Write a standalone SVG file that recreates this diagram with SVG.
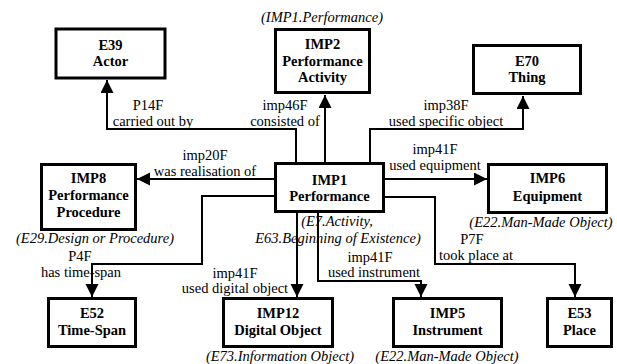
<svg xmlns="http://www.w3.org/2000/svg" width="617" height="364" viewBox="0 0 617 364" font-family="Liberation Serif, serif">
<style>
.box{fill:#fff;stroke:#000;stroke-width:3}
.c{fill:none;stroke:#000;stroke-width:2;marker-end:url(#ah)}
.t{font-family:"Liberation Serif",serif;font-size:14.5px;fill:#000;text-anchor:middle}
.b{font-weight:bold}
.i{font-style:italic}
</style>
<defs>
<marker id="ah" markerUnits="userSpaceOnUse" markerWidth="14" markerHeight="14" refX="13" refY="6.5" orient="auto">
<path d="M0,0 L13,6.5 L0,13 z" fill="#000"/>
</marker>
</defs>
<g id="connectors">
<path class="c" d="M296,162 V129 H107 V80"/>
<path class="c" d="M325,162 V95"/>
<path class="c" d="M370,162 V129 H523 V96"/>
<path class="c" d="M385,179 H487"/>
<path class="c" d="M274,179 H137"/>
<path class="c" d="M274,196 H202 V264 H92 V297"/>
<path class="c" d="M297,213 V297"/>
<path class="c" d="M318,213 V281 H421 V297"/>
<path class="c" d="M385,197 H435 V264 H575 V297"/>
<g class="t" font-family="Liberation Serif, serif">
<text x="148" y="110">P14F</text>
<text x="153" y="126">carried out by</text>
<text x="285" y="110">imp46F</text>
<text x="285" y="126">consisted of</text>
<text x="446" y="110">imp38F</text>
<text x="446" y="126">used specific object</text>
<text x="435" y="154">imp41F</text>
<text x="435" y="170">used equipment</text>
<text x="205" y="160">imp20F</text>
<text x="205" y="176">was realisation of</text>
<text x="80" y="261">P4F</text>
<text x="81" y="277">has time-span</text>
<text x="235" y="278">imp41F</text>
<text x="235" y="293">used digital object</text>
<text x="370" y="262">imp41F</text>
<text x="374" y="277">used instrument</text>
<text x="472" y="244">P7F</text>
<text x="476" y="260">took place at</text>
</g>
</g>
<g id="E39" class="t"><rect class="box" x="56" y="29" width="109" height="49"/><text class="b" x="110.5" y="50">E39</text><text class="b" x="110.5" y="66">Actor</text></g>
<g id="IMP2" class="t"><text class="i" x="322" y="22">(IMP1.Performance)</text><rect class="box" x="275.5" y="29.5" width="94" height="63"/><text class="b" x="322.5" y="49">IMP2</text><text class="b" x="322.5" y="66">Performance</text><text class="b" x="322.5" y="82">Activity</text></g>
<g id="E70" class="t"><rect class="box" x="473.5" y="45.5" width="107" height="48"/><text class="b" x="527" y="66">E70</text><text class="b" x="527" y="82">Thing</text></g>
<g id="IMP8" class="t"><rect class="box" x="41.5" y="164.5" width="94" height="65"/><text class="b" x="88.5" y="183">IMP8</text><text class="b" x="88.5" y="200">Performance</text><text class="b" x="88.5" y="217">Procedure</text><text class="i" x="95" y="243">(E29.Design or Procedure)</text></g>
<g id="IMP1" class="t"><rect class="box" x="275.5" y="163.5" width="108" height="48"/><text class="b" x="329.5" y="185">IMP1</text><text class="b" x="329.5" y="201">Performance</text><text class="i" x="337" y="226">(E7.Activity,</text><text class="i" x="338" y="243">E63.Beginning of Existence)</text></g>
<g id="IMP6" class="t"><rect class="box" x="488.5" y="164.5" width="118" height="48"/><text class="b" x="547.5" y="183">IMP6</text><text class="b" x="547.5" y="201">Equipment</text><text class="i" x="541" y="227">(E22.Man-Made Object)</text></g>
<g id="E52" class="t"><rect class="box" x="48.5" y="298.5" width="87" height="48"/><text class="b" x="92" y="318">E52</text><text class="b" x="92" y="335">Time-Span</text></g>
<g id="IMP12" class="t"><rect class="box" x="223.5" y="298.5" width="109" height="48"/><text class="b" x="278" y="318">IMP12</text><text class="b" x="278" y="335">Digital Object</text><text class="i" x="280" y="361">(E73.Information Object)</text></g>
<g id="IMP5" class="t"><rect class="box" x="393.5" y="298.5" width="108" height="48"/><text class="b" x="447.5" y="318">IMP5</text><text class="b" x="447.5" y="335">Instrument</text><text class="i" x="447" y="361">(E22.Man-Made Object)</text></g>
<g id="E53" class="t"><rect class="box" x="547.5" y="298.5" width="64" height="48"/><text class="b" x="579.5" y="318">E53</text><text class="b" x="579.5" y="335">Place</text></g>
</svg>
